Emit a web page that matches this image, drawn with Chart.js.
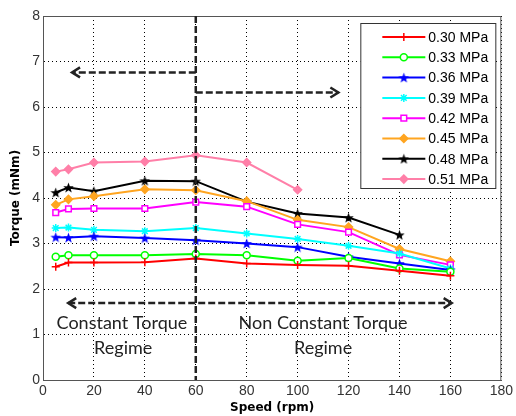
<!DOCTYPE html>
<html>
<head>
<meta charset="utf-8">
<script src="https://cdn.jsdelivr.net/npm/chart.js@4.4.0/dist/chart.umd.min.js"></script>
<style>
  html, body { margin: 0; padding: 0; background: #fff; }
  #wrap { width: 516px; height: 416px; }
</style>
</head>
<body>
<div id="wrap"><canvas id="torqueChart" width="516" height="416"></canvas></div>
<script>
// Velocidades medidas (rpm)
const speeds = [5, 10, 20, 40, 60, 80, 100, 120, 140, 160];
const pressureLabels = ['0.30 MPa', '0.33 MPa', '0.36 MPa', '0.39 MPa', '0.42 MPa', '0.45 MPa', '0.48 MPa', '0.51 MPa'];

// Par medido (mNm) para cada presión
const torque030 = [2.49, 2.58, 2.58, 2.59, 2.67, 2.56, 2.53, 2.51, 2.40, 2.29];
const torque033 = [2.71, 2.74, 2.74, 2.74, 2.77, 2.74, 2.62, 2.68, 2.45, 2.38];
const torque036 = [3.14, 3.13, 3.16, 3.12, 3.07, 3.00, 2.92, 2.71, 2.56, 2.42];
const torque039 = [3.34, 3.35, 3.30, 3.27, 3.34, 3.22, 3.10, 2.95, 2.78, 2.45];
const torque042 = [3.68, 3.76, 3.77, 3.77, 3.91, 3.81, 3.42, 3.25, 2.75, 2.53];
const torque045 = [3.85, 3.97, 4.04, 4.19, 4.17, 3.93, 3.52, 3.36, 2.88, 2.61];
const torque048 = [4.12, 4.23, 4.15, 4.38, 4.37, 3.92, 3.66, 3.57, 3.19];
const torque051 = [4.58, 4.63, 4.78, 4.80, 4.94, 4.78, 4.18];

const lineColors = ['#ff0000', '#00ff00', '#0000ff', '#00ffff', '#ff00ff', '#ffa520', '#000000', '#ff7fa8'];

// Anotaciones (en unidades de datos)
const regimeSplit = 60;
const arrowLeft = { from: 60, to: 11.4, y: 6.76 };
const arrowRight = { from: 60, to: 116, y: 6.32 };
const arrowBoth = { from: 9.9, to: 160.5, y: 1.69 };

// Estrella de cinco puntas rellena (marcador tipo 'p' de MATLAB)
function pentagram(color, size) {
    const c = document.createElement('canvas');
    c.width = size; c.height = size;
    const g = c.getContext('2d');
    const cx = size / 2, cy = size / 2 + 0.5, ro = size / 2, ri = ro * 0.42;
    g.beginPath();
    for (let i = 0; i < 10; i++) {
        const r = i % 2 === 0 ? ro : ri;
        const a = -Math.PI / 2 + i * Math.PI / 5;
        g.lineTo(cx + r * Math.cos(a), cy + r * Math.sin(a));
    }
    g.closePath();
    g.fillStyle = color;
    g.fill();
    return c;
}

const markers = [
    { style: 'cross', fill: false, radius: 4 },
    { style: 'circle', fill: false, radius: 3.5 },
    { style: pentagram('#0000ff', 11), fill: true, radius: 5 },
    { style: 'star', fill: false, radius: 4 },
    { style: 'rect', fill: false, radius: 4 },
    { style: 'rectRot', fill: true, radius: 4 },
    { style: pentagram('#000000', 11), fill: true, radius: 5 },
    { style: 'rectRot', fill: true, radius: 4 }
];

const series = [torque030, torque033, torque036, torque039, torque042, torque045, torque048, torque051];

const datasets = series.map(function (vals, i) {
    return {
        label: pressureLabels[i],
        data: vals.map(function (v, k) { return { x: speeds[k], y: v }; }),
        borderColor: lineColors[i],
        backgroundColor: markers[i].fill ? lineColors[i] : '#ffffff',
        borderWidth: 2,
        pointStyle: markers[i].style,
        pointRadius: markers[i].radius,
        pointBorderWidth: 1.5,
        pointHoverRadius: markers[i].radius,
        tension: 0
    };
});

function drawArrowHead(ctx, x, y, dir) {
    ctx.beginPath();
    ctx.moveTo(x - dir * 8, y - 5);
    ctx.lineTo(x, y);
    ctx.lineTo(x - dir * 8, y + 5);
    ctx.stroke();
}

function dashedArrow(ctx, xs, a, headStart, headEnd) {
    const ys = xs.chart.scales.y;
    const x1 = xs.getPixelForValue(a.from), x2 = xs.getPixelForValue(a.to);
    const y = ys.getPixelForValue(a.y);
    ctx.save();
    ctx.strokeStyle = '#222';
    ctx.lineWidth = 2.5;
    ctx.setLineDash([7, 3]);
    ctx.beginPath();
    ctx.moveTo(x1, y);
    ctx.lineTo(x2, y);
    ctx.stroke();
    ctx.setLineDash([]);
    ctx.lineWidth = 2.5;
    const dir = x2 > x1 ? 1 : -1;
    if (headEnd) drawArrowHead(ctx, x2, y, dir);
    if (headStart) drawArrowHead(ctx, x1, y, -dir);
    ctx.restore();
}

// Plugin: marco, línea de régimen, flechas, textos y leyenda estilo MATLAB
const decorPlugin = {
    id: 'decor',
    afterDatasetsDraw(chart) {
        const ctx = chart.ctx;
        const area = chart.chartArea;
        const xs = chart.scales.x, ys = chart.scales.y;

        // marco
        ctx.save();
        ctx.strokeStyle = '#555';
        ctx.lineWidth = 1;
        ctx.strokeRect(area.left + 0.5, area.top + 0.5, area.right - area.left - 1, area.bottom - area.top);
        ctx.restore();

        // línea vertical de separación
        const xv = xs.getPixelForValue(regimeSplit);
        ctx.save();
        ctx.strokeStyle = '#222';
        ctx.lineWidth = 2.5;
        ctx.setLineDash([7, 3]);
        ctx.beginPath();
        ctx.moveTo(xv, area.top);
        ctx.lineTo(xv, area.bottom);
        ctx.stroke();
        ctx.restore();

        dashedArrow(ctx, xs, arrowLeft, false, true);
        dashedArrow(ctx, xs, arrowRight, false, true);
        dashedArrow(ctx, xs, arrowBoth, true, true);

        // textos de régimen
        ctx.save();
        ctx.fillStyle = '#222';
        ctx.font = '18px Lato, "Open Sans", sans-serif';
        ctx.textAlign = 'center';
        ctx.textBaseline = 'middle';
        ctx.fillText('Constant Torque', xs.getPixelForValue(31), ys.getPixelForValue(1.24));
        ctx.fillText('Regime', xs.getPixelForValue(31.5), ys.getPixelForValue(0.70));
        ctx.fillText('Non Constant Torque', xs.getPixelForValue(110), ys.getPixelForValue(1.24));
        ctx.fillText('Regime', xs.getPixelForValue(110), ys.getPixelForValue(0.70));
        ctx.restore();

        // leyenda
        const bx = area.right - 141, by = area.top + 7, bw = 135, bh = 165;
        ctx.save();
        ctx.fillStyle = '#fff';
        ctx.fillRect(bx, by, bw, bh);
        ctx.strokeStyle = '#333';
        ctx.lineWidth = 1;
        ctx.strokeRect(bx + 0.5, by + 0.5, bw, bh);
        ctx.font = '14px "Liberation Sans", Arial, sans-serif';
        ctx.textBaseline = 'middle';
        chart.data.datasets.forEach(function (ds, i) {
            const ry = by + 14 + i * 20.3;
            ctx.strokeStyle = ds.borderColor;
            ctx.lineWidth = 2;
            ctx.beginPath();
            ctx.moveTo(bx + 22, ry);
            ctx.lineTo(bx + 65, ry);
            ctx.stroke();
            ctx.fillStyle = ds.backgroundColor;
            ctx.lineWidth = 1.5;
            Chart.helpers.drawPoint(ctx, { pointStyle: ds.pointStyle, radius: ds.pointRadius, rotation: 0, borderWidth: 1.5 }, bx + 43.5, ry);
            ctx.fillStyle = '#000';
            ctx.fillText(ds.label, bx + 68, ry + 1);
        });
        ctx.restore();
    }
};

new Chart(document.getElementById('torqueChart'), {
    type: 'line',
    data: { datasets: datasets },
    options: {
        responsive: false,
        animation: false,
        layout: { padding: { top: 16, right: 12, left: 0, bottom: 0 } },
        plugins: {
            legend: { display: false },
            tooltip: { enabled: false }
        },
        scales: {
            x: {
                type: 'linear',
                min: 0,
                max: 180,
                afterFit: function (s) { s.height = 36; },
                ticks: {
                    stepSize: 20,
                    padding: 3,
                    color: '#333',
                    font: { family: '"Liberation Sans", Arial, sans-serif', size: 14 },
                    maxRotation: 0
                },
                grid: { color: '#000', lineWidth: 1, drawTicks: false },
                border: { color: '#555', dash: [1, 3] },
                title: {
                    display: true,
                    text: 'Speed (rpm)',
                    color: '#000',
                    padding: { top: 0, bottom: 1 },
                    font: { family: '"DejaVu Sans", sans-serif', size: 12, weight: 'bold' }
                }
            },
            y: {
                min: 0,
                max: 8,
                afterFit: function (s) { s.width = 43; },
                ticks: {
                    stepSize: 1,
                    padding: 3,
                    color: '#333',
                    font: { family: '"Liberation Sans", Arial, sans-serif', size: 14 }
                },
                grid: { color: '#000', lineWidth: 1, drawTicks: false },
                border: { color: '#555', dash: [1, 3] },
                title: {
                    display: true,
                    text: 'Torque (mNm)',
                    color: '#000',
                    padding: { top: 9, bottom: 0 },
                    font: { family: '"DejaVu Sans", sans-serif', size: 12, weight: 'bold' }
                }
            }
        }
    },
    plugins: [decorPlugin]
});
</script>
</body>
</html>
